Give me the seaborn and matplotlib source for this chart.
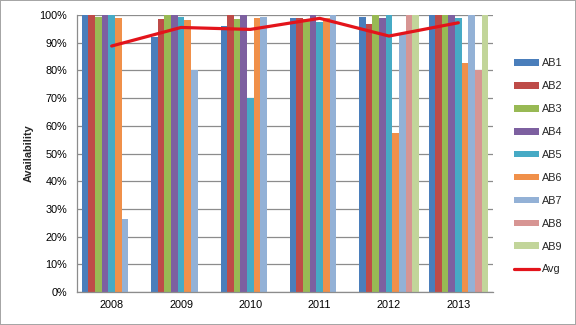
import numpy as np
import pandas as pd
import matplotlib
matplotlib.use("Agg")
import matplotlib.pyplot as plt
import seaborn as sns
from matplotlib.patches import Patch
from matplotlib.lines import Line2D
from matplotlib.ticker import PercentFormatter

nan = np.nan
years = ["2008", "2009", "2010", "2011", "2012", "2013"]
series = ["AB1", "AB2", "AB3", "AB4", "AB5", "AB6", "AB7", "AB8", "AB9"]
ab1 = [100, 92.0, 96.0, 99.0, 99.2, 100]
ab2 = [100, 98.6, 100, 99.0, 96.6, 100]
ab3 = [99.2, 100, 98.6, 98.6, 100, 100]
ab4 = [100, 100, 100, 100, 98.8, 100]
ab5 = [100, 99.3, 70.0, 97.4, 100, 98.9]
ab6 = [98.8, 98.2, 98.8, 99.0, 57.5, 82.5]
ab7 = [26.2, 80.0, 99.2, 100, 93.0, 100]
ab8 = [nan, nan, nan, nan, 100, 80.1]
ab9 = [nan, nan, nan, nan, 100, 100]
avg = [88.8, 95.5, 94.8, 98.8, 92.4, 97.2]

colors = ["#4A7EBB", "#BE4B48", "#98B954", "#7D60A0", "#46AAC5",
          "#F0904A", "#93B1D6", "#D79593", "#C2D59A"]
avg_color = "#E3141B"

values = [ab1, ab2, ab3, ab4, ab5, ab6, ab7, ab8, ab9]
rows = []
for name, vals in zip(series, values):
    for y, v in zip(years, vals):
        rows.append({"year": y, "series": name, "value": v / 100.0})
df = pd.DataFrame(rows)

sns.set_style("white")
plt.rcParams["font.family"] = ["Liberation Sans", "DejaVu Sans"]
plt.rcParams["font.size"] = 7.8

fig = plt.figure(figsize=(5.76, 3.25), dpi=100)
fig.patch.set_edgecolor("#A6A6A6")
fig.patch.set_linewidth(1.2)
ax = fig.add_axes([77 / 576, 1 - 292 / 325, (493 - 77) / 576, (292 - 15) / 325])

sns.barplot(data=df, x="year", y="value", hue="series", hue_order=series,
            order=years, palette=colors, width=0.86, gap=0, saturation=1,
            errorbar=None, linewidth=0, legend=False, ax=ax)

ax.plot(np.arange(len(years)), np.array(avg) / 100.0, color=avg_color,
        lw=2.3, solid_capstyle="round", zorder=5)

ax.set_xlim(-0.5, len(years) - 0.5)
ax.set_ylim(0, 1)
ax.set_yticks(np.linspace(0, 1, 11))
ax.yaxis.set_major_formatter(PercentFormatter(1.0, decimals=0))
ax.set_axisbelow(True)
ax.yaxis.grid(True, color="#8C8C8C", lw=0.9)
ax.xaxis.grid(False)

ax.set_xticks(np.arange(len(years)))
ax.set_xticklabels(years)
ax.set_xticks(np.arange(-0.5, len(years)), minor=True)
ax.tick_params(axis="x", which="major", length=0, pad=6, labelsize=7.8, colors="black")
ax.tick_params(axis="x", which="minor", length=5, width=0.9, color="#8C8C8C", direction="out")
ax.tick_params(axis="y", which="major", length=4, width=0.9, color="#8C8C8C",
               direction="out", pad=3, labelsize=7.8, labelcolor="black")

for side in ["top", "right"]:
    ax.spines[side].set_visible(False)
for side in ["left", "bottom"]:
    ax.spines[side].set_color("#8C8C8C")
    ax.spines[side].set_linewidth(0.9)

ax.set_xlabel("")
ax.set_ylabel("Availability", fontweight="bold", fontsize=7.8, labelpad=4)

handles = [Patch(facecolor=c, edgecolor="none") for c in colors]
handles.append(Line2D([0], [0], color=avg_color, lw=2.3))
labels = series + ["Avg"]
fig.legend(handles, labels, loc="upper left",
           bbox_to_anchor=(509 / 576, 1 - 53 / 325), frameon=False,
           handlelength=2.3, handleheight=0.55, handletextpad=0.2,
           labelspacing=1.19, borderpad=0, fontsize=7.8)

fig.savefig("out.png", dpi=100, edgecolor=fig.get_edgecolor())
